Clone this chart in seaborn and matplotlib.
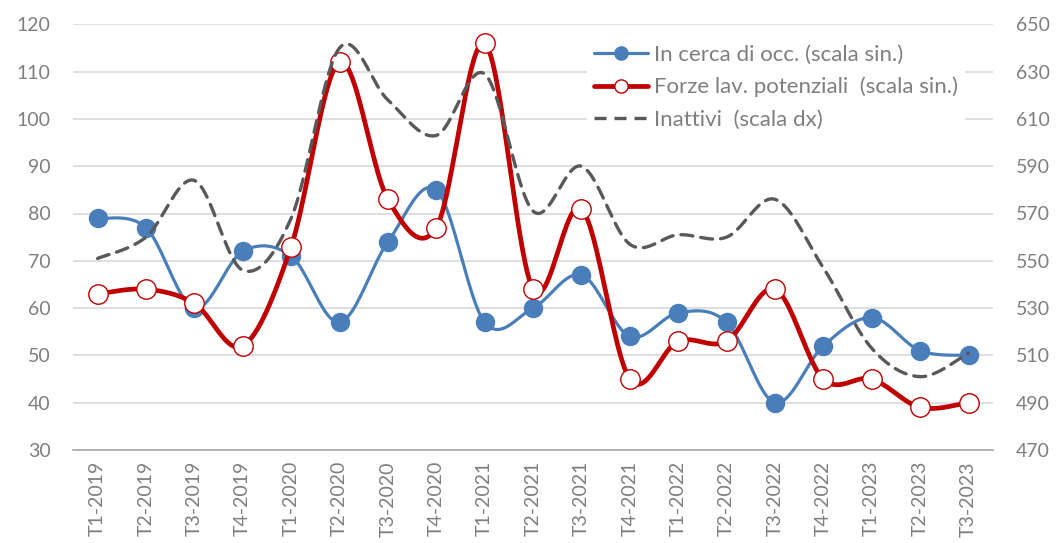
import numpy as np
import pandas as pd
import matplotlib
matplotlib.use("Agg")
import matplotlib.pyplot as plt
import seaborn as sns
from matplotlib.lines import Line2D
from matplotlib.ticker import FixedLocator

# Quarterly data (thousands)
quarters = ["T1-2019", "T2-2019", "T3-2019", "T4-2019",
            "T1-2020", "T2-2020", "T3-2020", "T4-2020",
            "T1-2021", "T2-2021", "T3-2021", "T4-2021",
            "T1-2022", "T2-2022", "T3-2022", "T4-2022",
            "T1-2023", "T2-2023", "T3-2023"]
in_cerca = [79, 77, 60, 72, 71, 57, 74, 85, 57, 60, 67, 54, 59, 57, 40, 52, 58, 51, 50]
forze_pot = [63, 64, 61, 52, 73, 112, 83, 77, 116, 64, 81, 45, 53, 53, 64, 45, 45, 39, 40]
inattivi = [551, 560, 584, 546, 568, 640, 618, 603, 629, 571, 590, 557, 561, 560, 576, 547, 513, 501, 511]

labels = ["In cerca di occ. (scala sin.)",
          "Forze lav. potenziali  (scala sin.)",
          "Inattivi  (scala dx)"]

BLUE = "#4A7EBB"
RED = "#C00000"
DARK = "#595959"
GRID = "#D9D9D9"
TXT = "#7F7F7F"


def smooth_curve(values, n=24):
    """Bezier smoothing through every point (Catmull-Rom style control points)."""
    pts = np.column_stack([np.arange(len(values), dtype=float), np.asarray(values, float)])
    ext = np.vstack([pts[0], pts, pts[-1]])
    t = np.linspace(0, 1, n)[:, None]
    parts = []
    for i in range(len(pts) - 1):
        p0, p1, p2, p3 = ext[i], ext[i + 1], ext[i + 2], ext[i + 3]
        c1 = p1 + (p2 - p0) / 6.0
        c2 = p2 - (p3 - p1) / 6.0
        seg = ((1 - t) ** 3) * p1 + 3 * ((1 - t) ** 2) * t * c1 + 3 * (1 - t) * (t ** 2) * c2 + (t ** 3) * p2
        parts.append(seg if i == 0 else seg[1:])
    arr = np.vstack(parts)
    return pd.DataFrame({"x": arr[:, 0], "y": arr[:, 1]})


sns.set_style("white")
plt.rcParams["font.family"] = ["Lato", "DejaVu Sans"]

W, H = 1057, 543
fig = plt.figure(figsize=(W / 100, H / 100), dpi=100)
left, right, top, bottom = 73.4, 992.7, 24.3, 450.0
ax = fig.add_axes([left / W, 1 - bottom / H, (right - left) / W, (bottom - top) / H])
ax2 = ax.twinx()

x = np.arange(len(quarters))

# Left-scale series
c_blue = smooth_curve(in_cerca)
sns.lineplot(data=c_blue, x="x", y="y", ax=ax, sort=False, estimator=None,
             color=BLUE, linewidth=2.3, zorder=3)
ax.plot(x, in_cerca, linestyle="none", marker="o", markersize=13,
        markerfacecolor=BLUE, markeredgecolor=BLUE, zorder=4)

c_red = smooth_curve(forze_pot)
sns.lineplot(data=c_red, x="x", y="y", ax=ax, sort=False, estimator=None,
             color=RED, linewidth=3.4, zorder=5)
ax.plot(x, forze_pot, linestyle="none", marker="o", markersize=14,
        markerfacecolor="white", markeredgecolor=RED, markeredgewidth=1.0, zorder=6)

# Right-scale series
c_gray = smooth_curve(inattivi)
sns.lineplot(data=c_gray, x="x", y="y", ax=ax2, sort=False, estimator=None,
             color=DARK, linewidth=2.4, zorder=3)
ax2.lines[-1].set_dashes((3.6, 2.4))
ax2.lines[-1].set_dash_capstyle("round")

# Axes scales
ax.set_xlim(-0.5, len(quarters) - 0.5)
ax.set_ylim(30, 120)
ax.set_yticks(np.arange(30, 121, 10))
ax2.set_ylim(470, 650)
ax2.set_yticks(np.arange(470, 651, 20))

ax.set_xticks(x)
ax.set_xticklabels(quarters, rotation=90)
ax.xaxis.set_minor_locator(FixedLocator(np.arange(-0.5, len(quarters), 1.0)))
ax.tick_params(axis="x", which="major", length=0, pad=8, labelsize=14, labelcolor=TXT)
ax.tick_params(axis="x", which="minor", length=6, width=1.2, color="#A6A6A6")
ax.tick_params(axis="y", length=0, pad=16.5, labelsize=14, labelcolor=TXT)
ax2.tick_params(axis="y", length=0, pad=16.5, labelsize=14, labelcolor=TXT)

ax.set_xlabel("")
ax.set_ylabel("")
ax2.set_xlabel("")
ax2.set_ylabel("")

ax.grid(axis="y", color=GRID, linewidth=1.2)
ax.grid(axis="x", visible=False)
ax2.grid(False)
for s in ["left", "right", "top"]:
    ax.spines[s].set_visible(False)
for s in ax2.spines.values():
    s.set_visible(False)
ax.spines["bottom"].set_color("#A6A6A6")
ax.spines["bottom"].set_linewidth(1.2)

handles = [
    Line2D([0], [0], color=BLUE, linewidth=2.3, marker="o", markersize=9.5,
           markerfacecolor=BLUE, markeredgecolor=BLUE),
    Line2D([0], [0], color=RED, linewidth=3.4, marker="o", markersize=9.5,
           markerfacecolor="white", markeredgecolor=RED, markeredgewidth=1.0),
    Line2D([0], [0], color=DARK, linewidth=2.4, dashes=(3.6, 2.4)),
]
leg = ax2.legend(handles, labels, loc="upper left",
                 bbox_to_anchor=(587 / W, 1 - 38 / H), bbox_transform=fig.transFigure,
                 frameon=True, facecolor="white", edgecolor="none", framealpha=1,
                 fontsize=16, handlelength=2.45, handletextpad=0.27,
                 labelspacing=0.55, borderpad=0.3, borderaxespad=0, fancybox=False)
for t in leg.get_texts():
    t.set_color(TXT)

fig.savefig("out.png", dpi=100, facecolor="white")
